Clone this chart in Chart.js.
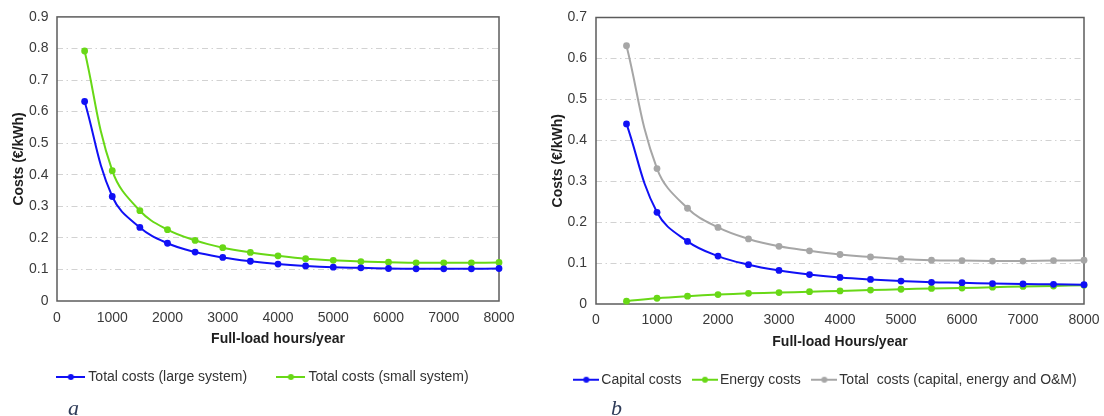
<!DOCTYPE html>
<html>
<head>
<meta charset="utf-8">
<script src="https://cdn.jsdelivr.net/npm/chart.js@4/dist/chart.umd.min.js"></script>
<style>
  html, body { margin: 0; padding: 0; background: #fff; overflow: hidden; width: 1104px; height: 416px; }
  #wrap { position: relative; width: 1104px; height: 416px; }
  canvas { position: absolute; top: 0; }
  #chartA { left: 0; }
  #chartB { left: 545px; }
  .tag { position: absolute; font: italic 22px "Liberation Serif", "DejaVu Serif", serif; color: #2e3b58; line-height: 22px; }
</style>
</head>
<body>
<div id="wrap">
  <canvas id="chartA" width="529" height="416"></canvas>
  <canvas id="chartB" width="565" height="416"></canvas>
  <div class="tag" style="left:68px;top:397px">a</div>
  <div class="tag" style="left:611px;top:397px">b</div>
</div>
<script>
// Full-load hours per year at which costs were evaluated
const hours = [500, 1000, 1500, 2000, 2500, 3000, 3500, 4000, 4500, 5000, 5500, 6000, 6500, 7000, 7500, 8000];
const xTickLabels = ['0', '1000', '2000', '3000', '4000', '5000', '6000', '7000', '8000'];

// Panel a: total costs by system size (€/kWh)
const largeSystem = [0.632, 0.331, 0.233, 0.183, 0.155, 0.138, 0.126, 0.117, 0.111, 0.107, 0.105, 0.103, 0.102, 0.102, 0.102, 0.103];
const smallSystem = [0.792, 0.413, 0.286, 0.226, 0.192, 0.169, 0.154, 0.143, 0.134, 0.129, 0.125, 0.123, 0.121, 0.121, 0.121, 0.122];
const yTicksA = ['0', '0.1', '0.2', '0.3', '0.4', '0.5', '0.6', '0.7', '0.8', '0.9'];

// Panel b: cost breakdown (€/kWh)
const capitalCosts = [0.440, 0.224, 0.153, 0.117, 0.096, 0.082, 0.072, 0.065, 0.060, 0.056, 0.053, 0.052, 0.050, 0.049, 0.048, 0.047];
const energyCosts  = [0.007, 0.014, 0.019, 0.023, 0.026, 0.028, 0.030, 0.032, 0.034, 0.036, 0.038, 0.039, 0.041, 0.043, 0.044, 0.046];
const totalCosts   = [0.631, 0.331, 0.234, 0.187, 0.159, 0.141, 0.130, 0.121, 0.115, 0.110, 0.107, 0.106, 0.105, 0.105, 0.106, 0.107];
const yTicksB = ['0', '0.1', '0.2', '0.3', '0.4', '0.5', '0.6', '0.7'];

const BLUE = '#1010f5';
const GREEN = '#68d816';
const GREY = '#a6a6a6';
const FONT = "'Liberation Sans', Arial, sans-serif";

// Plot-area frame drawn around the chart area
const framePlugin = {
  id: 'frame',
  beforeDatasetsDraw(chart) {
    const { ctx, chartArea: a } = chart;
    ctx.save();
    ctx.strokeStyle = '#5c5c5c';
    ctx.lineWidth = 1.5;
    ctx.strokeRect(a.left, a.top, a.right - a.left, a.bottom - a.top);
    ctx.restore();
  }
};

// Legend symbol: short line with a dot in the middle
function legendMark(color, width) {
  const c = document.createElement('canvas');
  c.width = width; c.height = 10;
  const g = c.getContext('2d');
  g.strokeStyle = color; g.lineWidth = 2;
  g.beginPath(); g.moveTo(0, 5); g.lineTo(width, 5); g.stroke();
  g.fillStyle = color;
  g.beginPath(); g.arc(width / 2, 5, 3, 0, Math.PI * 2); g.fill();
  return c;
}

function buildChart(el, s) {
  const lastY = s.yTicks.length - 1;
  return new Chart(el, {
    type: 'line',
    data: {
      datasets: s.series.map(d => ({
        label: d.label,
        data: hours.map((h, i) => ({ x: h, y: d.values[i] })),
        borderColor: d.color,
        backgroundColor: d.color,
        pointBackgroundColor: d.color,
        pointBorderColor: d.color,
        pointBorderWidth: 0,
        pointRadius: 3.4,
        pointHoverRadius: 3.4,
        borderWidth: 2,
        tension: 0.4,
        fill: false,
        clip: false
      }))
    },
    options: {
      responsive: false,
      animation: false,
      devicePixelRatio: 1,
      events: [],
      layout: { padding: { top: s.padTop, bottom: s.padBottom, left: 0, right: 0 } },
      plugins: {
        tooltip: { enabled: false },
        legend: {
          position: 'bottom',
          align: 'center',
          fullSize: true,
          labels: {
            usePointStyle: true,
            pointStyleWidth: s.boxW,
            padding: s.legendPad,
            color: '#333333',
            font: { family: FONT, size: 14 },
            generateLabels: chart => chart.data.datasets.map((ds, i) => ({
              text: ds.label + (i === 0 ? s.firstGap : ''),
              pointStyle: legendMark(ds.borderColor, s.markW),
              fillStyle: ds.borderColor,
              strokeStyle: ds.borderColor,
              fontColor: '#333333',
              lineWidth: 0,
              hidden: false,
              datasetIndex: i
            }))
          }
        }
      },
      scales: {
        x: {
          type: 'linear',
          min: 0, max: 8000,
          grid: { display: false, drawTicks: false },
          border: { display: false },
          ticks: {
            stepSize: 1000, autoSkip: false, maxRotation: 0, minRotation: 0,
            padding: s.xTickPad, color: '#3a3a3a', font: { family: FONT, size: 14 },
            callback: (v, i) => xTickLabels[i]
          },
          title: {
            display: true, text: s.xTitle, color: '#1e1e1e',
            font: { family: FONT, size: 14, weight: 'bold' },
            padding: { top: s.xTitleTop, bottom: s.xTitleBottom }
          },
          afterFit: sc => { sc.height = s.xHeight; }
        },
        y: {
          type: 'linear',
          min: 0, max: s.yMax,
          grid: {
            drawTicks: false,
            lineWidth: 1,
            borderDash: [6, 3.5, 1.5, 3.5],
            color: ctx => (ctx.index === 0 || ctx.index === lastY) ? 'rgba(0,0,0,0)' : '#d2d2d2'
          },
          border: { display: false, dash: [6, 3.5, 1.5, 3.5] },
          ticks: {
            stepSize: 0.1, autoSkip: false,
            padding: s.yTickPad, color: '#3a3a3a', font: { family: FONT, size: 14 },
            callback: (v, i) => s.yTicks[i]
          },
          title: {
            display: true, text: 'Costs (€/kWh)', color: '#1e1e1e',
            font: { family: FONT, size: 14, weight: 'bold' },
            padding: { top: s.yTitlePad, bottom: 0 }
          },
          afterFit: sc => { sc.width = s.yWidth; }
        },
        edge: {
          position: 'right',
          display: true,
          grid: { display: false, drawTicks: false },
          border: { display: false },
          ticks: { display: false },
          afterFit: sc => { sc.width = s.edgeWidth; }
        }
      }
    },
    plugins: [framePlugin]
  });
}

buildChart(document.getElementById('chartA'), {
  series: [
    { label: 'Total costs (large system)', values: largeSystem, color: BLUE },
    { label: 'Total costs (small system)', values: smallSystem, color: GREEN }
  ],
  xTitle: 'Full-load hours/year',
  yMax: 0.9, yTicks: yTicksA,
  padTop: 15, padBottom: 22,
  yWidth: 57, yTickPad: 8.5, yTitlePad: 10.6,
  xHeight: 59, xTickPad: 8.4, xTitleTop: 4.4, xTitleBottom: 12.6,
  edgeWidth: 30, legendPad: 10, boxW: 21, markW: 29,
  firstGap: '\u00a0\u00a0\u00a0\u00a0\u00a0\u00a0'
});

buildChart(document.getElementById('chartB'), {
  series: [
    { label: 'Capital costs', values: capitalCosts, color: BLUE },
    { label: 'Energy costs', values: energyCosts, color: GREEN },
    { label: 'Total  costs (capital, energy and O&M)', values: totalCosts, color: GREY }
  ],
  xTitle: 'Full-load Hours/year',
  yMax: 0.7, yTicks: yTicksB,
  padTop: 17.5, padBottom: 19.3,
  yWidth: 51, yTickPad: 9, yTitlePad: 4.6,
  xHeight: 53.2, xTickPad: 7.6, xTitleTop: 5.2, xTitleBottom: 6.8,
  edgeWidth: 26, legendPad: 15.5, boxW: 16, markW: 26,
  firstGap: ''
});
</script>
</body>
</html>
